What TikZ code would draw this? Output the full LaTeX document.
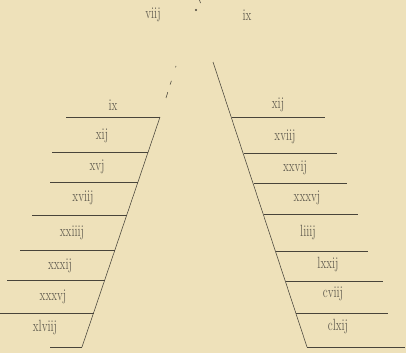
\documentclass[tikz,border=0pt]{standalone}
\usepackage{tikz}
\usetikzlibrary{positioning}
\definecolor{Paper}{RGB}{238, 225, 186}
\definecolor{InkLine}{RGB}{72, 68, 58}
\definecolor{InkText}{RGB}{100, 95, 82}

\begin{document}
\begin{tikzpicture}[x=1pt, y=-1pt,
    rung/.style={InkLine, line width=0.6pt},
    leg/.style={InkLine, line width=0.55pt},
    numeral/.style={InkText, font=\fontsize{12.5}{14}\selectfont, inner sep=0pt,
                    xscale=0.9, yscale=1.3, transform shape}]
    % Paper
    \fill[Paper] (0,0) rectangle (406,353);
    \useasboundingbox (0,0) rectangle (406,353);

    % Apex and the two legs
    \coordinate (apex) at (196,10);
    \coordinate (ltop) at (176,66);
    \coordinate (lmid) at (160,117);
    \coordinate (lfoot) at (82,347);
    \coordinate (rtop) at (213,62);
    \coordinate (rfoot) at (307,347);
    \fill[InkLine] (apex) circle (1.2);
    \draw[leg] (199.5,0) -- (200.5,3);
    \draw[leg, dash pattern=on 1.5pt off 14pt on 4pt off 8pt on 6pt off 20pt] (ltop) -- (lmid);
    \draw[leg] (lmid) -- (lfoot);
    \draw[leg] (rtop) -- (rfoot);

    % Top numerals
    \node[numeral] (t1) at (153,15) {viij};
    \node[numeral] (t2) at (247,15) {ix};

    % Left rungs: y / left end / end on leg
    \foreach \y/\a/\b in {117/66/160, 152/52/148, 182/50/138, 215/32/127,
                          250/20/115, 280/7/105, 313/0/94, 347/50/82} {
      \draw[rung] (\a,\y) -- (\b,\y);
    }
    \foreach \n/\x/\y/\t in {l1/113/105/ix, l2/102/136/xij, l3/97/167/xvj, l4/83/198/xviij,
                             l5/72/233/xxiiij, l6/60/266/xxxij, l7/53/297/xxxvj, l8/45/328/xlviij} {
      \node[numeral] (\n) at (\x,\y) {\t};
    }

    % Right rungs: y / end on leg / right end
    \foreach \y/\a/\b in {117/232/325, 153/244/337, 183/254/347, 214/264/358,
                          251/276/368, 281/286/383, 313/296/388, 347/307/405} {
      \draw[rung] (\a,\y) -- (\b,\y);
    }
    \foreach \n/\x/\y/\t in {r1/278/105/xij, r2/285/137/xviij, r3/295/168/xxvij, r4/307/198/xxxvj,
                             r5/308/233/liiij, r6/328/265/lxxij, r7/333/294/cviij, r8/338/327/clxij} {
      \node[numeral] (\n) at (\x,\y) {\t};
    }
\end{tikzpicture}
\end{document}
